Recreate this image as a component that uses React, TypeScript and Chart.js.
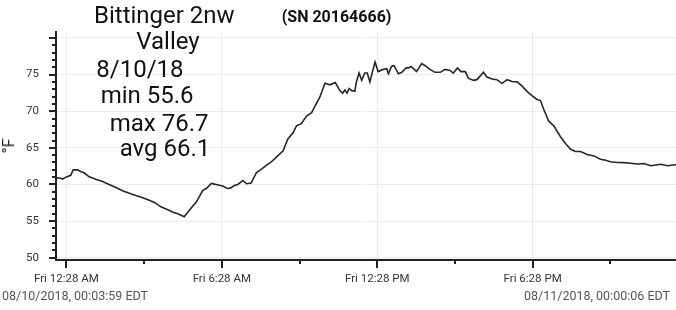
import React, { useEffect, useRef } from "react";
import { Chart, registerables } from "chart.js";

Chart.register(...registerables);

// Minutes elapsed since the first reading (08/10/2018 00:03:59 EDT)
const MINUTES = [
  0, 11, 15, 23, 34, 40, 50, 58, 65, 77,
  92, 108, 123, 139, 154, 170, 185, 201, 216, 228,
  243, 259, 270, 282, 297, 313, 325, 340, 348, 360,
  371, 386, 397, 404, 413, 421, 433, 441, 452, 464,
  476, 487, 497, 510, 526, 537, 549, 557, 568, 580,
  592, 599, 611, 623, 634, 647, 657, 664, 669, 674,
  679, 685, 692, 696, 702, 708, 715, 721, 727, 733,
  739, 746, 758, 766, 770, 777, 783, 793, 801, 811,
  816, 822, 828, 835, 847, 855, 866, 878, 890, 901,
  913, 920, 930, 938, 948, 955, 967, 975, 990, 998,
  1010, 1021, 1033, 1045, 1056, 1068, 1079, 1091, 1103, 1114,
  1122, 1130, 1141, 1153, 1168, 1180, 1192, 1203, 1215, 1230,
  1246, 1261, 1273, 1284, 1300, 1315, 1331, 1346, 1362, 1377,
  1389, 1401, 1416, 1436,
];

// Temperature, °F
const TEMPS_F = [
  60.9, 60.85, 60.75, 61.0, 61.25, 62.0, 62.0, 61.75, 61.6, 61.05,
  60.7, 60.4, 60.0, 59.6, 59.15, 58.8, 58.5, 58.2, 57.85, 57.55,
  56.95, 56.55, 56.25, 56.0, 55.6, 56.8, 57.6, 59.2, 59.45, 60.15,
  60.0, 59.8, 59.45, 59.5, 59.85, 60.0, 60.55, 60.1, 60.2, 61.6,
  62.1, 62.6, 63.0, 63.7, 64.6, 66.2, 67.05, 68.0, 68.3, 69.3,
  69.8, 70.6, 71.9, 73.8, 73.6, 73.9, 72.85, 72.45, 72.9, 72.45,
  73.1, 72.8, 72.7, 74.05, 75.2, 74.2, 75.2, 75.2, 74.0, 75.4,
  76.7, 75.4, 75.7, 75.8, 75.1, 76.1, 76.2, 75.1, 75.3, 75.9,
  75.9, 76.1, 75.8, 75.4, 76.5, 76.2, 75.7, 75.3, 75.3, 75.7,
  75.55, 75.2, 75.9, 75.4, 75.4, 74.5, 74.2, 74.3, 75.3, 74.65,
  74.4, 74.3, 73.8, 74.3, 74.05, 74.0, 73.45, 72.7, 72.1, 71.6,
  71.45, 70.2, 68.65, 68.0, 66.55, 65.6, 64.8, 64.5, 64.5, 64.1,
  63.9, 63.45, 63.3, 63.1, 63.0, 62.98, 62.9, 62.8, 62.85, 62.55,
  62.65, 62.75, 62.55, 62.7,
];

const X_MAJOR_MINUTES = [24, 384, 744, 1104];
const X_MAJOR_LABELS = ["Fri 12:28 AM", "Fri 6:28 AM", "Fri 12:28 PM", "Fri 6:28 PM"];
const X_MINOR_MINUTES = [204, 564, 924, 1284];
const Y_MAJOR_TICKS = [50, 55, 60, 65, 70, 75, 80];
const Y_TICK_LABELS = ["50", "55", "60", "65", "70", "75", ""];

const TITLE_LINES = ["Bittinger 2nw", "Valley", "8/10/18", "min 55.6", "max 76.7", "avg 66.1"];
const SERIAL_TEXT = "(SN 20164666)";
const UNIT_TEXT = "°F";
const START_STAMP = "08/10/2018, 00:03:59 EDT";
const END_STAMP = "08/11/2018, 00:00:06 EDT";

const TITLE_POS = [
  { left: 94, top: 2.5 },
  { left: 136.3, top: 29.1 },
  { left: 96.3, top: 56.5 },
  { left: 100.7, top: 83.1 },
  { left: 109.7, top: 110.5 },
  { left: 119.7, top: 135.8 },
];

const tickMarksPlugin = {
  id: "tickMarks",
  afterDraw(chart: any) {
    const { ctx, chartArea } = chart;
    const xs = chart.scales.x;
    const ys = chart.scales.y;
    ctx.save();
    ctx.strokeStyle = "#222";
    ctx.lineWidth = 2;
    for (let v = Math.ceil(ys.min); v <= ys.max; v++) {
      const py = Math.round(ys.getPixelForValue(v));
      const len = v % 5 === 0 ? 7 : 4;
      ctx.beginPath();
      ctx.moveTo(chartArea.left - len, py);
      ctx.lineTo(chartArea.left, py);
      ctx.stroke();
    }
    const drawX = (m: number, len: number) => {
      const px = Math.round(xs.getPixelForValue(m));
      ctx.beginPath();
      ctx.moveTo(px, chartArea.bottom);
      ctx.lineTo(px, chartArea.bottom + len);
      ctx.stroke();
    };
    X_MAJOR_MINUTES.forEach((m) => drawX(m, 8));
    X_MINOR_MINUTES.forEach((m) => drawX(m, 4));
    ctx.restore();
  },
};

export default function App() {
  const canvasRef = useRef<HTMLCanvasElement | null>(null);

  useEffect(() => {
    if (!canvasRef.current) return;
    const data = MINUTES.map((m, i) => ({ x: m, y: TEMPS_F[i] }));
    const chart = new Chart(canvasRef.current, {
      type: "line",
      data: {
        datasets: [
          {
            data,
            borderColor: "#262626",
            borderWidth: 1.6,
            pointRadius: 0,
            tension: 0,
            fill: false,
          },
        ],
      },
      options: {
        animation: false,
        responsive: false,
        devicePixelRatio: 1,
        layout: { padding: { top: 32, right: 0, bottom: 0, left: 0 } },
        plugins: { legend: { display: false }, tooltip: { enabled: false }, title: { display: false } },
        scales: {
          x: {
            type: "linear",
            min: 0,
            max: 1436,
            afterBuildTicks: (scale: any) => {
              scale.ticks = X_MAJOR_MINUTES.map((v) => ({ value: v }));
            },
            afterFit: (scale: any) => {
              scale.height = 50;
            },
            ticks: {
              autoSkip: false,
              maxRotation: 0,
              padding: 12,
              color: "#333",
              font: { family: "Roboto", size: 11.5 },
              callback: (_v: any, i: number) => X_MAJOR_LABELS[i],
            },
            grid: { color: "#ececec", lineWidth: 1, drawTicks: false },
            border: { display: true, color: "#222", width: 2 },
          },
          y: {
            type: "linear",
            min: 49.7,
            max: 80.8,
            afterBuildTicks: (scale: any) => {
              scale.ticks = Y_MAJOR_TICKS.map((v) => ({ value: v }));
            },
            afterFit: (scale: any) => {
              scale.width = 56;
            },
            ticks: {
              padding: 17,
              color: "#333",
              font: { family: "Roboto", size: 11.5 },
              callback: (_v: any, i: number) => Y_TICK_LABELS[i],
            },
            grid: { color: "#ececec", lineWidth: 1, drawTicks: false },
            border: { display: true, color: "#222", width: 2 },
          },
        },
      },
      plugins: [tickMarksPlugin],
    } as any);
    return () => chart.destroy();
  }, []);

  const base: React.CSSProperties = {
    position: "absolute",
    whiteSpace: "nowrap",
    fontFamily: "Roboto, sans-serif",
    pointerEvents: "none",
  };

  return (
    <div style={{ position: "absolute", left: 0, top: 0, width: 676, height: 310, background: "#fff", overflow: "hidden" }}>
      <canvas ref={canvasRef} width={676} height={310} style={{ display: "block", width: 676, height: 310 }} />
      {TITLE_LINES.map((t, i) => (
        <div
          key={i}
          style={{ ...base, left: TITLE_POS[i].left, top: TITLE_POS[i].top, fontSize: 24, lineHeight: "24px", color: "#111" }}
        >
          {t}
        </div>
      ))}
      <div style={{ ...base, left: 281.7, top: 9.2, fontSize: 16, lineHeight: "16px", fontWeight: 700, color: "#111" }}>
        {SERIAL_TEXT}
      </div>
      <div
        style={{
          ...base,
          left: 9.2,
          top: 145.5,
          fontSize: 16,
          lineHeight: "16px",
          color: "#222",
          transform: "translate(-50%, -50%) rotate(-90deg)",
        }}
      >
        {UNIT_TEXT}
      </div>
      <div style={{ ...base, left: 2, top: 289.5, fontSize: 12.5, lineHeight: "12.5px", color: "#555" }}>{START_STAMP}</div>
      <div style={{ ...base, right: 6, top: 289.5, fontSize: 12.5, lineHeight: "12.5px", color: "#555" }}>{END_STAMP}</div>
    </div>
  );
}
